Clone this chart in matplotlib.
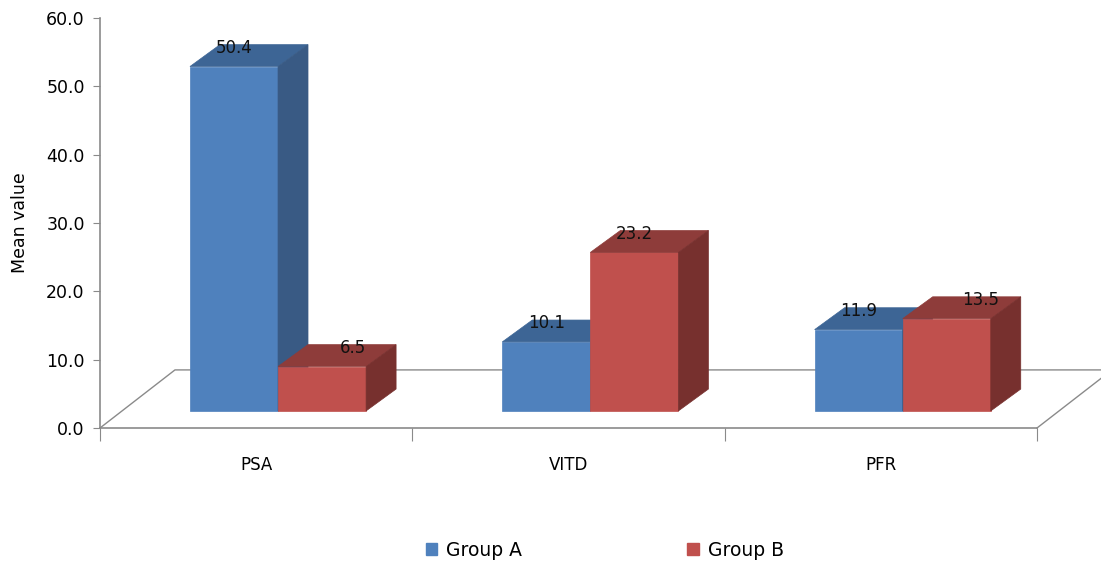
import matplotlib.pyplot as plt
from matplotlib.patches import Polygon, Patch

categories = ["PSA", "VITD", "PFR"]
group_a = [50.4, 10.1, 11.9]
group_b = [6.5, 23.2, 13.5]
series_names = ["Group A", "Group B"]
y_ticks = [0, 10, 20, 30, 40, 50, 60]

# face colours: front, top, side
COLORS = {
    "Group A": ("#4f81bd", "#3d6595", "#395a84"),
    "Group B": ("#c0504d", "#8e3c3a", "#77302e"),
}

BAR_W = 0.282
# front faces sit a bit back on the floor
BASE_DX, BASE_DY = 0.07, 2.5
# depth of each bar
DEPTH_DX, DEPTH_DY = 0.096, 3.2
# depth of the whole floor
FLOOR_DX, FLOOR_DY = 0.24, 8.5

fig = plt.figure(figsize=(11.01, 5.65), dpi=100)
ax = fig.add_axes([100 / 1101, 137 / 565, 937 / 1101, 410 / 565])
ax.set_xlim(-0.5, 2.5)
ax.set_ylim(0, 60)

grey = "#8a8a8a"

# floor outline (front edge is the x axis itself)
floor = [(-0.5, 0), (-0.5 + FLOOR_DX, FLOOR_DY),
         (2.5 + FLOOR_DX, FLOOR_DY), (2.5, 0)]
ax.plot(*zip(*floor), color=grey, lw=1, clip_on=False, zorder=1)


def draw_box(x0, value, colors):
    front, top, side = colors
    y0 = BASE_DY
    y1 = BASE_DY + value
    x1 = x0 + BAR_W
    faces = [
        ([(x0, y0), (x1, y0), (x1, y1), (x0, y1)], front),
        ([(x0, y1), (x1, y1), (x1 + DEPTH_DX, y1 + DEPTH_DY),
          (x0 + DEPTH_DX, y1 + DEPTH_DY)], top),
        ([(x1, y0), (x1 + DEPTH_DX, y0 + DEPTH_DY),
          (x1 + DEPTH_DX, y1 + DEPTH_DY), (x1, y1)], side),
    ]
    for pts, c in faces:
        ax.add_patch(Polygon(pts, closed=True, facecolor=c, edgecolor=c,
                             lw=0.5, clip_on=False, zorder=2))


# small sideways nudges so neighbouring labels don't collide
label_nudge = {(0, 1): 0.1, (2, 1): 0.11}

for i in range(len(categories)):
    for j, (name, vals) in enumerate(zip(series_names, [group_a, group_b])):
        x0 = i + BASE_DX - BAR_W + j * BAR_W
        draw_box(x0, vals[i], COLORS[name])
        lx = x0 + BAR_W / 2 + label_nudge.get((i, j), 0)
        ly = BASE_DY + vals[i] + DEPTH_DY - 0.5
        ax.text(lx, ly, f"{vals[i]:.1f}", ha="center", va="center",
                fontsize=12, color="#111111", zorder=3)

for s in ["top", "right"]:
    ax.spines[s].set_visible(False)
for s in ["left", "bottom"]:
    ax.spines[s].set_color(grey)
    ax.spines[s].set_linewidth(1.2)

ax.set_yticks(y_ticks)
ax.set_yticklabels([f"{v:.1f}" for v in y_ticks], fontsize=12.5)
ax.tick_params(axis="y", direction="out", length=5, color=grey, pad=6)

ax.set_xticks([-0.5, 0.5, 1.5, 2.5])
ax.set_xticklabels([])
ax.tick_params(axis="x", which="major", direction="out", length=9, color=grey)
ax.set_xticks(range(len(categories)), minor=True)
ax.set_xticklabels(categories, minor=True, fontsize=12)
ax.tick_params(axis="x", which="minor", length=0, pad=20)

ax.set_ylabel("Mean value", fontsize=12.5, labelpad=12)

handles = [Patch(facecolor=COLORS[n][0], edgecolor=COLORS[n][0]) for n in series_names]
fig.legend(handles, series_names, loc="center", bbox_to_anchor=(605 / 1101, 15 / 565),
           ncol=2, frameon=False, fontsize=13.5, handlelength=0.6, handleheight=0.6,
           handletextpad=0.5, columnspacing=8.8)

fig.savefig("out.png", dpi=100)
